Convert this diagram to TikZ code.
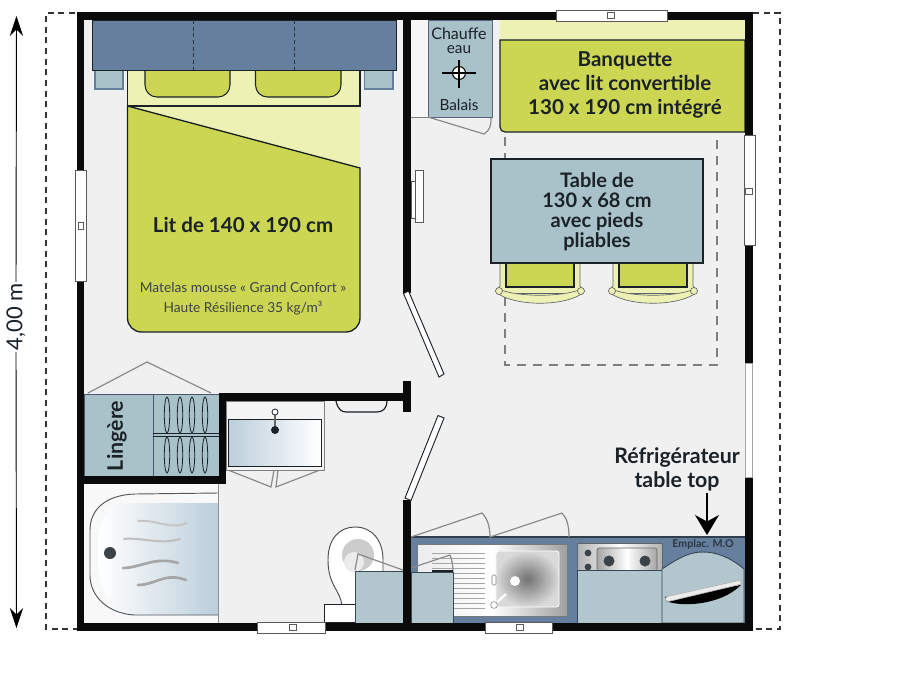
\documentclass[tikz,border=0pt]{standalone}
\usepackage{fontspec}
\setmainfont{Lato}
\usetikzlibrary{arrows.meta}
\definecolor{floorc}{HTML}{F0F0F0}
\definecolor{wallc}{HTML}{0A0A0A}
\definecolor{bluec}{HTML}{667F9F}
\definecolor{greyblue}{HTML}{A9C1C8}
\definecolor{limec}{HTML}{CDD653}
\definecolor{palec}{HTML}{EEF1B4}
\definecolor{inkc}{HTML}{1A2228}
\definecolor{doorc}{HTML}{8A8A8A}
\definecolor{dashc}{HTML}{7F7F7F}
\definecolor{tubc}{HTML}{BBCEDB}
\tikzset{
 wall/.style={fill=wallc,draw=none},
 win/.style={fill=white,draw=gray!70!black,line width=.5pt},
 furn/.style={draw=inkc,line width=.8pt},
 swing/.style={draw=doorc,line width=.9pt},
 big/.style={font=\fontsize{15.4}{18}\selectfont\bfseries,text=inkc,align=center,inner sep=0pt},
 small/.style={font=\fontsize{11.5}{10.5}\selectfont,text=inkc,align=center,inner sep=0pt},
 wave/.style={draw=gray!70,line width=1.5pt,line cap=round},
 outerdash/.style={line width=.9pt,draw=black!80,dash pattern=on 4.5pt off 3.5pt},
}
\begin{document}
\begin{tikzpicture}[x=0.75pt,y=-0.75pt]
\useasboundingbox (0,0) rectangle (900,675);
\fill[white] (0,0) rectangle (900,675);
% floor
\fill[floorc] (80,16) rectangle (749,627);
% outer dashed
\draw[outerdash] (75,13) -- (46,13) -- (46,629) -- (77,629);
\draw[outerdash] (753,13) -- (780,13) -- (780,629) -- (753,629);
% dimension
\coordinate (dimtop) at (16.5,16);
\coordinate (dimbot) at (16.5,628);
\node[rotate=90,font=\fontsize{16.5}{18}\selectfont,inner sep=0pt,text=inkc] (dimlabel) at (16,317) {4,00 m};
\draw[-{Stealth[length=15pt,width=10pt]},line width=.7pt] (dimlabel.east) ++(0,-1) -- (dimtop);
\draw[-{Stealth[length=15pt,width=10pt]},line width=.7pt] (dimlabel.west) ++(0,1) -- (dimbot);
% bed
\fill[palec] (127.5,70) rectangle (360,170);
\draw[furn,fill=limec,line width=1pt] (127.5,106) -- (360,168) -- (360,318) arc[start angle=0,end angle=90,radius=14] -- (141.5,332) arc[start angle=90,end angle=180,radius=14] -- cycle;
\draw[furn,line width=1pt] (127.5,70) -- (127.5,106) -- (360,106) -- (360,70);
\draw[furn,fill=limec] (145,70) -- (145,85) arc[start angle=180,end angle=90,radius=12] -- (218,97) arc[start angle=90,end angle=0,radius=12] -- (230,70);
\draw[furn,fill=limec] (255.5,70) -- (255.5,85) arc[start angle=180,end angle=90,radius=12] -- (329,97) arc[start angle=90,end angle=0,radius=12] -- (341,70);
\draw[draw=bluec,fill=greyblue,line width=.8pt] (95,70) rectangle (123,89);
\draw[draw=bluec,fill=greyblue,line width=.8pt] (364.5,70) rectangle (393,89);
\draw[draw=inkc,fill=bluec,line width=.7pt] (92,20) rectangle (396,70);
\draw[densely dashed,draw=inkc!80!bluec,line width=.7pt] (193,20) -- (193,70);
\draw[densely dashed,draw=inkc!80!bluec,line width=.7pt] (294,20) -- (294,70);
\node[big] (littxt) at (243,225) {Lit de 140 x 190 cm};
\node[font=\fontsize{10.3}{15}\selectfont,text=inkc!85,align=center,inner sep=0pt] (mattxt) at (243,299) {Matelas mousse « Grand Confort »\\Haute Résilience 35 kg/m³};
% water heater
\fill[white!40!floorc] (411,20) rectangle (428,117);
\draw[draw=gray,line width=.6pt] (411,117) -- (428,117);
\draw[furn,fill=greyblue,line width=.7pt,draw=bluec!80!black] (428,20) rectangle (492,117);
\draw[swing] (428,117) -- (484,134) .. controls (490,130) and (491,126) .. (491,118);
\node[small] (chauffe) at (459,41) {\fontsize{12}{10.5}\selectfont Chauffe\\eau};
\node[small] (balais) at (459,104.5) {Balais};
\draw[draw=black,line width=.8pt,fill=white] (459,73) circle[radius=6.5];
\draw[draw=black,line width=.8pt] (442,73) -- (476,73) (459,60) -- (459,88);
% banquette
\fill[palec] (500,20) rectangle (745,40);
\draw[furn,fill=limec,line width=.9pt] (500,40) -- (745,40) -- (745,132) -- (505,132) arc[start angle=90,end angle=180,radius=5] -- cycle;
\node[big] (banq) at (625,85) {Banquette\\avec lit convertible\\130 x 190 cm intégré};
% dashed play area
\draw[draw=dashc,line width=1pt,dash pattern=on 7pt off 5pt] (505,137) -- (505,365) -- (717,365) -- (717,135);
% chairs
\foreach \dx in {0,113}{
\begin{scope}[xshift=\dx*0.75pt]
\draw[draw=inkc!70,fill=palec,line width=.5pt] (500,263) -- (580,263) -- (580,286) -- (584,290) -- (580,295) .. controls (560,306) and (520,306) .. (500,295) -- (496,290) -- (500,286) -- cycle;
\draw[draw=inkc,fill=limec,line width=.9pt] (506,263) -- (506,287) -- (574,287) -- (574,263);
\draw[draw=inkc!70,line width=.5pt] (501,290) .. controls (520,297) and (560,297) .. (579,290);
\draw[draw=inkc!70,line width=.5pt] (517,293) -- (563,293);
\draw[draw=inkc!70,fill=palec,line width=.5pt] (499,291) circle[radius=3.5] (581,291) circle[radius=3.5];
\end{scope}}
% table
\draw[furn,fill=greyblue] (491,159) rectangle (703,263);
\node[big,font=\fontsize{15}{15}\selectfont\bfseries] (tabtxt) at (597,212) {Table de\\130 x 68 cm\\avec pieds\\pliables};
% bathroom: tub
\fill[white!50!floorc] (84,484) rectangle (218,623);
\draw[draw=doorc,line width=.6pt] (218,484) -- (218,623);
\path[left color=white,right color=tubc] (100,503) -- (218,503) -- (218,615) -- (126,615) .. controls (108,610) and (98,585) .. (98,555) .. controls (98,530) and (100,510) .. (120,503) -- cycle;
\draw[draw=inkc!75,line width=.7pt] (218,493) -- (135,494) .. controls (105,495) and (90,510) .. (90,530) -- (90,575) .. controls (90,598) and (110,614) .. (135,615) -- (218,615);
\fill[inkc!85] (110,553) circle[radius=6];
\draw[wave,draw=gray!45] (138,521) .. controls (155,519) and (170,530) .. (187,523);
\draw[wave,draw=gray!50] (124,539) .. controls (140,537) and (160,545) .. (180,539);
\draw[wave,line width=2pt] (123,568) .. controls (140,568) and (155,556) .. (178,563);
\draw[wave,line width=2pt] (138,585) .. controls (155,585) and (165,572) .. (186,580);
% lingere
\draw[swing] (88,393) -- (147,362) -- (211,393);
\draw[draw=bluec!70!black,fill=greyblue,line width=.6pt] (84,394) rectangle (153,476);
\draw[draw=bluec!70!black,fill=greyblue,line width=.6pt] (153,394) rectangle (219,476);
\draw[draw=inkc,line width=.6pt] (153,433) -- (219,433) (153,436) -- (219,436);
\foreach \lx in {167,180,192,205}{
 \draw[draw=inkc,line width=.6pt] (\lx,415) ellipse[x radius=2.7,y radius=18];
 \draw[draw=inkc,line width=.6pt] (\lx,455) ellipse[x radius=2.7,y radius=18];
}
\node[rotate=90,big,font=\fontsize{16}{18}\selectfont\bfseries] (linge) at (117,436) {Lingère};
% basin
\draw[swing] (228,470) -- (271,487) -- (274,470) (278,470) -- (276,487) -- (320,470);
\draw[draw=gray,fill=white!30!floorc,line width=.7pt] (226,401) rectangle (324,470);
\draw[draw=inkc,left color=tubc,right color=white,line width=.7pt] (228,419) rectangle (321,466);
\draw[draw=gray!80!black,line width=1.5pt] (275,413) -- (275,428);
\draw[draw=inkc,fill=white,line width=.6pt] (275,412) circle[radius=3];
\fill[inkc] (275,430) circle[radius=4];
\draw[draw=inkc,line width=.9pt] (336,401) .. controls (338,410) and (342,412) .. (346,412) -- (377,412) .. controls (383,412) and (387,408) .. (387,401);
% toilet
\draw[draw=inkc!80,fill=white,line width=.7pt] (342,605) .. controls (340,590) and (328,585) .. (328,560) .. controls (328,538) and (340,527) .. (355,527) .. controls (372,527) and (383,540) .. (383,560) -- (383,572) -- (355,605) -- cycle;
\fill[gray!40] (358,555) circle[radius=16];
\fill[white!85!gray] (354,562) circle[radius=10];
\draw[draw=inkc,fill=white,line width=.7pt] (324,604) rectangle (355,622);
% door wedges (toilet and kitchen cupboards)
\fill[bluec] (411,537) rectangle (745,623);
\draw[draw=inkc!70!bluec,line width=.8pt] (411,537) -- (745,537);
\draw[swing] (355,570) -- (358,554) -- (403,570);
\draw[swing] (411,537) -- (482,513) .. controls (487,518) and (490,526) .. (490,537) -- (562,513) .. controls (567,518) and (569,526) .. (569,537);
% sink
\path[left color=white!85!gray,right color=gray!75,middle color=white] (417,544) rectangle (567,616);
\draw[draw=inkc!60,line width=.4pt] (417,544) rectangle (567,616);
\foreach \ly in {553,558,...,610}{\draw[draw=gray!70,line width=.7pt] (432,\ly) -- (485,\ly);}
\path[inner color=gray!90!black,outer color=white!70!gray,draw=white,line width=.7pt,rounded corners=2pt] (496,551) rectangle (559,607);
\fill[white] (515,581) circle[radius=5];
\draw[draw=white,line width=1.6pt] (494,605) -- (506,594);
\draw[draw=inkc!60,fill=white,line width=.4pt] (494,605) circle[radius=3.4];
\draw[draw=gray,fill=white,line width=.4pt,rounded corners=1pt] (492,575) rectangle (496,585);
% hob
\path[left color=gray!60,right color=gray!60,middle color=white,draw=inkc!70] (577,543) rectangle (662,570);
\path[left color=gray!70,right color=gray!70,middle color=white,draw=inkc!70,rounded corners=1.5pt] (597,548) rectangle (657,572);
\fill[inkc!85] (609,561) circle[radius=5.5] (645,561) circle[radius=5.5] (588,553) circle[radius=3.4] (588,567) circle[radius=3.4];
\draw[draw=inkc!60!bluec,fill=greyblue!90!white,line width=.7pt] (577,570) rectangle (662,623);
% fridge
\draw[draw=inkc!60!bluec,fill=greyblue!90!white,line width=.7pt] (662,569) .. controls (680,557) and (690,552) .. (703,552) .. controls (716,552) and (730,557) .. (744,569) -- (744,623) -- (662,623) -- cycle;
\fill[black] (666,601) .. controls (680,607) and (720,606) .. (741,585) -- (665,597) -- cycle;
\draw[draw=gray!60,fill=white!85!gray,line width=.5pt,rounded corners=2pt] (665,597) -- (741,580) -- (742,584) -- (666,602) -- cycle;
\node[font=\fontsize{8}{8}\selectfont\bfseries,text=inkc!80!bluec,inner sep=0pt] (emplac) at (703,544) {Emplac. M.O};
% cupboards over sink end
\draw[swing] (411,568) -- (450,555) .. controls (452,560) and (453,565) .. (453,572);
\draw[draw=inkc!60!bluec,fill=greyblue!90!white,line width=.6pt] (355,571) rectangle (403,623);
\draw[draw=inkc!60!bluec,fill=greyblue!90!white,line width=.6pt] (411,572) rectangle (453,623);
\draw[draw=inkc,line width=1pt] (432,571) -- (453,571);
% walls
\fill[wall] (77,12) rectangle (753,20);
\fill[wall] (77,12) rectangle (84,631);
\fill[wall] (77,623) rectangle (753,631);
\fill[wall] (745,12) rectangle (753,631);
\fill[wall] (403,12) rectangle (411,293);
\fill[wall] (403,500) rectangle (411,631);
\fill[wall] (219,393) rectangle (403,401);
\fill[wall] (403,381) rectangle (411,412);
\fill[wall] (219,393) rectangle (226,484);
\fill[wall] (84,476) rectangle (226,484);
% doors
\draw[win,draw=inkc,line width=.7pt,fill=white] (403.5,293.5) -- (408.5,291) -- (444,374) -- (439,377) -- cycle;
\draw[win,draw=inkc,line width=.7pt,fill=white] (405,498) -- (411,500.5) -- (444,418) -- (438,415.5) -- cycle;
% windows
\draw[win] (75,170) rectangle (86,281);
\draw[win] (78,222) rectangle (83,229);
\draw[win] (556,10) rectangle (667,21);
\draw[win] (607,12.5) rectangle (614,18.5);
\draw[win] (744,135) rectangle (755,245);
\draw[win] (745.5,188) rectangle (752,194);
\fill[white] (745,363) rectangle (752,477);
\draw[draw=gray!70,line width=.5pt] (745,363) -- (745,477) -- (752,477) -- (752,363) -- cycle;
\draw[win] (485,622) rectangle (552,633);
\draw[win] (516,624) rectangle (523,630);
\draw[win] (257,622) rectangle (325,633);
\draw[win] (289,624) rectangle (296,630);
% inner wall sliding panel
\draw[win] (415,170) rectangle (423,222);
\draw[win] (411,181) rectangle (415,218);
% fridge label
\node[big,font=\fontsize{16}{18}\selectfont\bfseries] (frig) at (677,469) {Réfrigérateur\\table top};
\coordinate (fridgearrow) at (707,535);
\draw[-{Stealth[length=15pt,width=18pt]},line width=1.2pt] (frig.south -| fridgearrow) ++(0,2) -- (fridgearrow);
\end{tikzpicture}
\end{document}
